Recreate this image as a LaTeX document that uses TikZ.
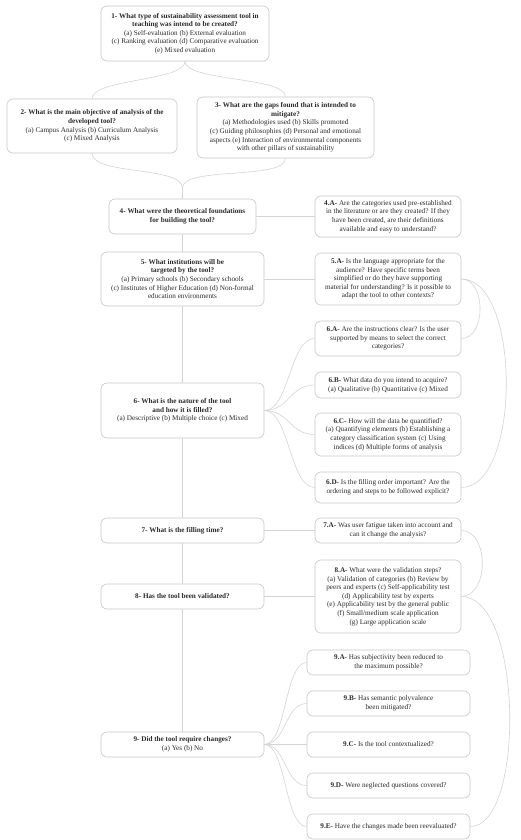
\documentclass[tikz,border=0pt]{standalone}
\usepackage{fontspec}
\setmainfont{Liberation Serif}
\definecolor{boxc}{HTML}{C8C8C8}
\definecolor{linec}{HTML}{D4D4D4}
\definecolor{txt}{HTML}{2A2A2A}
\tikzset{
  box/.style={draw=boxc, rounded corners=6pt, line width=0.6pt, align=center,
    font=\fontsize{7.2}{8.6}\selectfont, inner sep=0pt, text=txt, fill=white},
  mainbox/.style={box, minimum width=163pt},
  subbox/.style={box, minimum width=146pt},
  link/.style={draw=linec, line width=0.6pt}
}
\begin{document}
\begin{tikzpicture}[x=1pt,y=-1pt]
\useasboundingbox[fill=white] (0,0) rectangle (520,840);

% main column
\node[box, minimum width=168pt, minimum height=55pt] (n1) at (185,33.5)
 {\textbf{1- What type of sustainability assessment tool in}\\\textbf{teaching was intend to be created?}\\(a) Self-evaluation (b) External evaluation\\(c) Ranking evaluation (d) Comparative evaluation\\(e) Mixed evaluation};
\node[box, minimum width=170pt, minimum height=54pt] (n2) at (92,126)
 {\textbf{2- What is the main objective of analysis of the}\\\textbf{developed tool?}\\(a) Campus Analysis (b) Curriculum Analysis\\(c) Mixed Analysis};
\node[box, minimum width=177pt, minimum height=61pt] (n3) at (285.5,127.5)
 {\textbf{3- What are the gaps found that is intended to}\\\textbf{mitigate?}\\(a) Methodologies used (b) Skills promoted\\(c) Guiding philosophies (d) Personal and emotional\\aspects (e) Interaction of environmental components\\with other pillars of sustainability};
\node[box, minimum width=147pt, minimum height=35pt] (n4) at (182.5,216.5)
 {\textbf{4- What were the theoretical foundations}\\\textbf{for building the tool?}};
\node[mainbox, minimum height=54pt] (n5) at (182.5,279)
 {\textbf{5- What institutions will be}\\\textbf{targeted by the tool?}\\(a) Primary schools (b) Secondary schools\\(c) Institutes of Higher Education (d) Non-formal\\education environments};
\node[mainbox, minimum height=55pt] (n6) at (182.5,410.5)
 {\textbf{6- What is the nature of the tool}\\\textbf{and how it is filled?}\\(a) Descriptive (b) Multiple choice (c) Mixed};
\node[mainbox, minimum height=25pt] (n7) at (182.5,530.5)
 {\textbf{7- What is the filling time?}};
\node[mainbox, minimum height=25pt] (n8) at (182.5,596.5)
 {\textbf{8- Has the tool been validated?}};
\node[mainbox, minimum height=25pt] (n9) at (182.5,744.5)
 {\textbf{9- Did the tool require changes?}\\(a) Yes (b) No};

% sub questions
\node[subbox, minimum height=41pt] (a4) at (388,216.5)
 {\textbf{4.A-} Are the categories used pre-established\\in the literature or are they created? If they\\have been created, are their definitions\\available and easy to understand?};
\node[subbox, minimum height=52pt] (a5) at (388,279)
 {\textbf{5.A-} Is the language appropriate for the\\audience? Have specific terms been\\simplified or do they have supporting\\material for understanding? Is it possible to\\adapt the tool to other contexts?};
\node[subbox, minimum height=35pt] (a6) at (388,338.5)
 {\textbf{6.A-} Are the instructions clear? Is the user\\supported by means to select the correct\\categories?};
\node[subbox, minimum height=26pt] (b6) at (388,385)
 {\textbf{6.B-} What data do you intend to acquire?\\(a) Qualitative (b) Quantitative (c) Mixed};
\node[subbox, minimum height=43pt] (c6) at (388,434.5)
 {\textbf{6.C-} How will the data be quantified?\\(a) Quantifying elements (b) Establishing a\\category classification system (c) Using\\indices (d) Multiple forms of analysis};
\node[subbox, minimum height=31pt] (d6) at (388,487.5)
 {\textbf{6.D-} Is the filling order important? Are the\\ordering and steps to be followed explicit?};
\node[subbox, minimum height=25pt] (a7) at (388,530.5)
 {\textbf{7.A-} Was user fatigue taken into account and\\can it change the analysis?};
\node[subbox, minimum height=73pt] (a8) at (388,596.5)
 {\textbf{8.A-} What were the validation steps?\\(a) Validation of categories (b) Review by\\peers and experts (c) Self-applicability test\\(d) Applicability test by experts\\(e) Applicability test by the general public\\(f) Small/medium scale application\\(g) Large application scale};
\node[box, minimum width=163pt, minimum height=25pt] (a9) at (388.5,662.5)
 {\textbf{9.A-} Has subjectivity been reduced to\\the maximum possible?};
\node[box, minimum width=163pt, minimum height=25pt] (b9) at (388.5,703.5)
 {\textbf{9.B-} Has semantic polyvalence\\been mitigated?};
\node[box, minimum width=163pt, minimum height=25pt] (c9) at (388.5,744.5)
 {\textbf{9.C-} Is the tool contextualized?};
\node[box, minimum width=163pt, minimum height=25pt] (d9) at (388.5,785.5)
 {\textbf{9.D-} Were neglected questions covered?};
\node[box, minimum width=163pt, minimum height=25pt] (e9) at (388.5,826.5)
 {\textbf{9.E-} Have the changes made been reevaluated?};

\coordinate (j4) at (182.5,188);

% connectors
\begin{scope}[on background layer/.style={}]
\path[link] (n1.south) .. controls +(0,20) and +(0,-20) .. (n2.north);
\path[link] (n1.south) .. controls +(0,20) and +(0,-20) .. (n3.north);
\path[link] (n2.south) .. controls +(0,22) and +(0,-22) .. (j4);
\path[link] (n3.south) .. controls +(0,22) and +(0,-22) .. (j4);
\path[link] (j4) -- (n4.north);
\path[link] (n4.south) -- (n5.north);
\path[link] (n5.south) -- (n6.north);
\path[link] (n6.south) -- (n7.north);
\path[link] (n7.south) -- (n8.north);
\path[link] (n8.south) -- (n9.north);
\path[link] (n4.east) -- (a4.west);
\path[link] (n5.east) -- (a5.west);
\path[link] (n7.east) -- (a7.west);
\path[link] (n8.east) -- (a8.west);
\foreach \t in {a6,b6,c6,d6}
  \path[link] (n6.east) .. controls +(25,0) and +(-25,0) .. (\t.west);
\foreach \t in {a9,b9,c9,d9,e9}
  \path[link] (n9.east) .. controls +(22,0) and +(-22,0) .. (\t.west);
\path[link] (a5.east) .. controls +(25,0) and +(25,0) .. (a6.east);
\path[link] (a5.east) .. controls +(60,0) and +(60,0) .. (d6.east);
\path[link] (a7.east) .. controls +(28,0) and +(28,0) .. (a8.east);
\path[link] (a8.east) .. controls +(62,0) and +(55,0) .. (e9.east);
\end{scope}
\end{tikzpicture}
\end{document}
